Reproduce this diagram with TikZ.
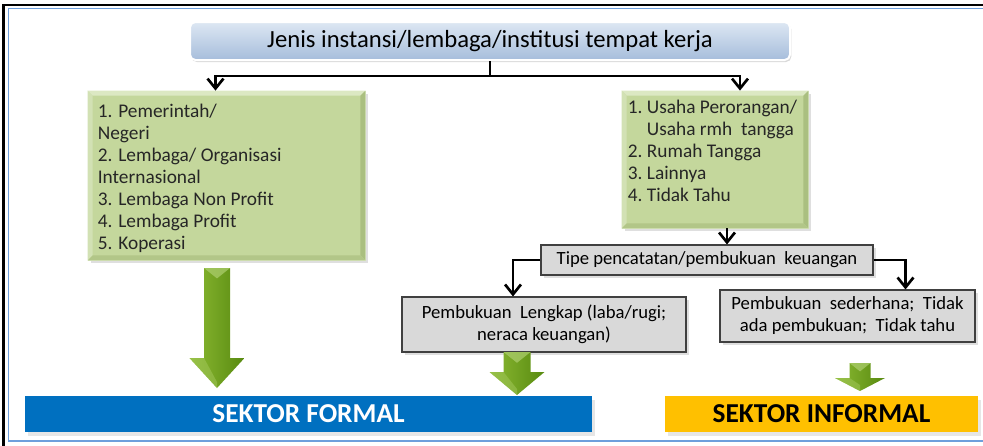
\documentclass[tikz,border=0pt]{standalone}
\usepackage{fontspec}
\setmainfont{Carlito}
\usetikzlibrary{arrows.meta,positioning,calc,shadows}
\definecolor{titletop}{HTML}{DDE7F3}
\definecolor{titlebot}{HTML}{A6BDDB}
\definecolor{olive}{HTML}{C4D79C}
\definecolor{olivelt}{HTML}{DCE8C3}
\definecolor{olivedk}{HTML}{AABF80}
\definecolor{boxgrey}{HTML}{D9D9D9}
\definecolor{formal}{HTML}{0070C0}
\definecolor{informal}{HTML}{FFC000}
\definecolor{arrowlt}{HTML}{8CBA33}
\definecolor{arrowdk}{HTML}{588A10}
\definecolor{frameblue}{HTML}{6E9FDC}
\tikzset{
  titlebox/.style={draw=white, line width=1.5pt, rounded corners=4pt, top color=titletop,
                   bottom color=titlebot, font=\fontsize{18.5}{20}\selectfont,
                   drop shadow={opacity=0.3, shadow xshift=1pt, shadow yshift=-1.5pt}},
  listbox/.style={fill=olive, draw=olivelt, line width=0.6pt,
                  drop shadow={opacity=0.25, shadow xshift=2pt, shadow yshift=-2pt}},
  listtext/.style={inner sep=0pt, align=left, text=black!85, font=\fontsize{14.5}{16.5}\selectfont},
  notebox/.style={draw=black!75, fill=boxgrey, line width=0.8pt, align=center, inner sep=2pt,
                  font=\fontsize{14}{16.5}\selectfont,
                  drop shadow={opacity=0.25, shadow xshift=2pt, shadow yshift=-2pt}},
  sectorbar/.style={minimum height=27pt, font=\bfseries\fontsize{20.5}{22}\selectfont,
                    drop shadow={opacity=0.2, shadow xshift=2pt, shadow yshift=-3pt}},
  link/.style={line width=2pt, -{Straight Barb[length=2.6mm,width=4.2mm,line width=2pt]}},
}

\begin{document}
\begin{tikzpicture}[x=0.75pt, y=-0.75pt]
  \useasboundingbox (0,0) rectangle (983,446);
  % window frame
  \draw[line width=1.6pt] (983,5) -- (3.5,5) -- (3.5,446);
  \draw[frameblue, line width=1.3pt] (983,8.5) -- (8.5,8.5) -- (8.5,441) -- (983,441);

  % title and the two lists
  \node[titlebox, minimum width=450pt, minimum height=28.5pt] (title) at (490,41)
    {Jenis instansi/lembaga/institusi tempat kerja};
  \node[listbox, minimum width=207.75pt, minimum height=126.75pt] (lbox) at (226.5,175.5) {};
  \node[listbox, minimum width=139.5pt, minimum height=102.75pt] (rbox) at (715,159.5) {};
  % bevel on the list boxes
  \foreach \b in {lbox,rbox} {
    \fill[olivelt] (\b.north west) -- (\b.north east) -- ($(\b.north east)+(-5,5)$) -- ($(\b.north west)+(5,5)$) -- cycle;
    \fill[olivelt!60!olive] (\b.north west) -- ($(\b.north west)+(5,5)$) -- ($(\b.south west)+(5,-5)$) -- (\b.south west) -- cycle;
    \fill[olivedk] (\b.north east) -- (\b.south east) -- ($(\b.south east)+(-5,-5)$) -- ($(\b.north east)+(-5,5)$) -- cycle;
    \fill[olivedk!70!olive] (\b.south west) -- (\b.south east) -- ($(\b.south east)+(-5,-5)$) -- ($(\b.south west)+(5,-5)$) -- cycle;
  }
  \node[listtext, anchor=north west] (ltext) at ($(lbox.north west)+(10,13)$)
    {1. Pemerintah/\\Negeri\\2. Lembaga/ Organisasi\\Internasional\\3. Lembaga Non Profit\\4. Lembaga Profit\\5. Koperasi};
  \node[listtext, anchor=north west] (rtext) at ($(rbox.north west)+(6,9)$)
    {1.~Usaha Perorangan/\\\hphantom{1.~}Usaha rmh~ tangga\\2.~Rumah Tangga\\3.~Lainnya\\4.~Tidak Tahu};

  % bookkeeping boxes
  \node[notebox, minimum width=249pt, minimum height=22.5pt] (tipe) at (707,260)
    {Tipe pencatatan/pembukuan~ keuangan};
  \node[notebox, minimum width=213pt, minimum height=41.25pt] (lengkap) at (544,324.5)
    {Pembukuan~ Lengkap (laba/rugi;\\neraca keuangan)};
  \node[notebox, minimum width=191.25pt, minimum height=39pt] (sederhana) at (847.5,316)
    {Pembukuan~ sederhana;~ Tidak\\ada pembukuan;~ Tidak tahu};

  % sectors
  \node[sectorbar, fill=formal, text=white, minimum width=425.25pt] (formal) at (308.5,414) {SEKTOR FORMAL};
  \node[sectorbar, fill=informal, text=black, minimum width=234.75pt] (informal) at (821.5,414) {SEKTOR INFORMAL};

  % connectors
  \draw[line width=2pt] (title.south) -- (490,76) coordinate (fork);
  \draw[link] (fork) -| ([xshift=-8.25pt]lbox.north);
  \draw[link] (fork) -| ([xshift=18.75pt]rbox.north);
  \draw[link] ([xshift=9pt]rbox.south) -- ([xshift=9pt]rbox.south |- tipe.north);
  \draw[link] (tipe.west) -| ([xshift=-23.25pt]lengkap.north);
  \draw[link] (tipe.east) -| ([xshift=43.5pt]sederhana.north);

  % green block arrows: centre / top / head start / tip / half shaft / half head
  \foreach \x/\t/\h/\p/\s/\w in {217/268/358/388/13/27.5, 517/352/372/395/13.5/27.5, 860/363/378/391/10.5/25} {
    \shade[left color=arrowlt, right color=arrowdk] (\x-\s,\t) -- (\x+\s,\t) -- (\x+\s,\h) -- (\x+\w,\h)
      -- (\x,\p) -- (\x-\w,\h) -- (\x-\s,\h) -- cycle;
    \fill[arrowlt!70!white, opacity=0.7] (\x-\s,\t) -- (\x+\s,\t) -- (\x,\t+\s*0.8) -- cycle;
    \fill[arrowlt!80!white, opacity=0.5] (\x-\w,\h) -- (\x-\s,\h) -- (\x,\p-6) -- (\x,\p) -- cycle;
  }
\end{tikzpicture}
\end{document}
